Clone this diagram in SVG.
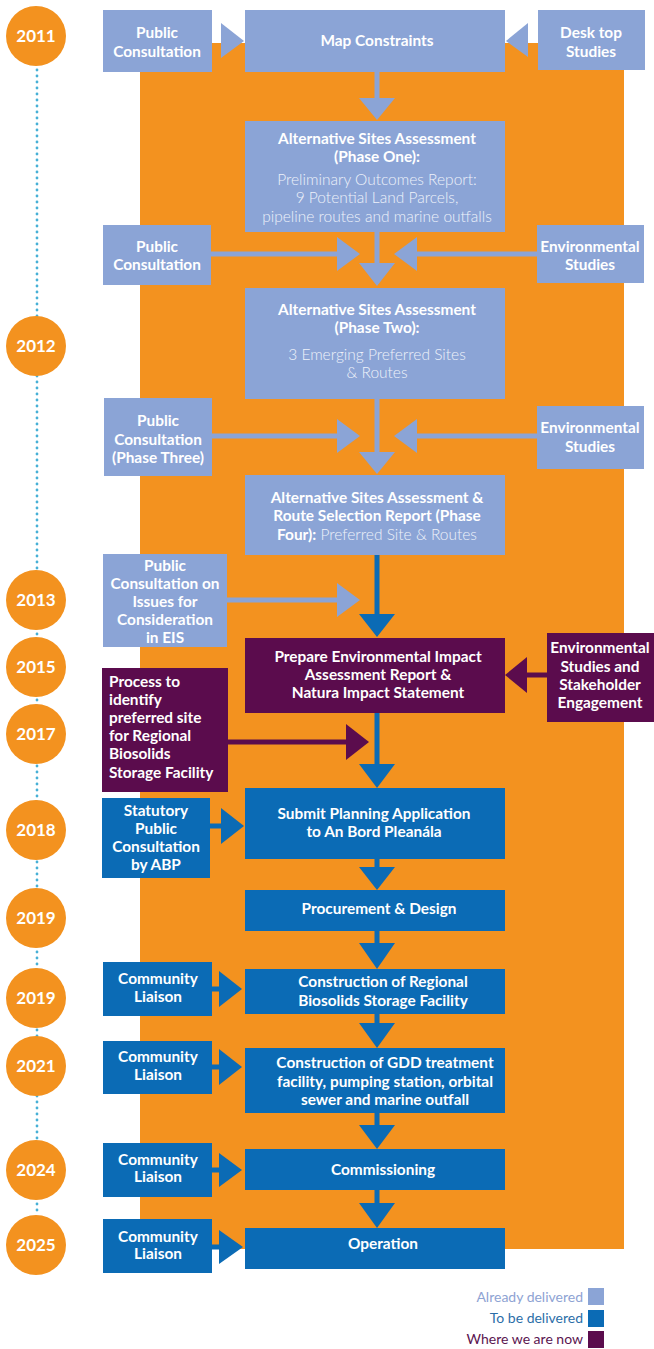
<svg xmlns="http://www.w3.org/2000/svg" width="654" height="1349" viewBox="0 0 654 1349">
<style>
.bg{fill:#ffffff}
.orange{fill:#f3921f}
.lb{fill:#8ba4d6}
.db{fill:#0b6bb5}
.pu{fill:#5b0c4d}
.yr{fill:#f3921f}
.dots{stroke:#47b0d6;stroke-width:2.8;stroke-linecap:round;stroke-dasharray:0 6;fill:none}
.sh-lb{stroke:#8ba4d6;stroke-width:5;fill:none}
.sh-db{stroke:#0b6bb5;stroke-width:5;fill:none}
.sh-pu{stroke:#5b0c4d;stroke-width:5;fill:none}
text{font-family:Lato,"Open Sans","Liberation Sans",sans-serif;fill:#ffffff}
.b{font-weight:700;font-size:15.4px}
.r{font-weight:300;font-size:15.5px;fill:#eef2fa}
.c{text-anchor:middle}
.y{font-weight:700;font-size:17px;text-anchor:middle}
.lg{font-size:14px;text-anchor:end;font-weight:400}
</style>
<rect class="bg" x="0" y="0" width="654" height="1349"/>
<rect class="orange" x="140" y="43" width="484" height="1206"/>

<g id="timeline">
  <line class="dots" x1="37" y1="70" x2="37" y2="1216"/>
  <g id="y2011"><circle class="yr" cx="36" cy="36" r="30"/><text class="y" x="36" y="42">2011</text></g>
  <g id="y2012"><circle class="yr" cx="36" cy="346" r="30"/><text class="y" x="36" y="352">2012</text></g>
  <g id="y2013"><circle class="yr" cx="36" cy="600" r="30"/><text class="y" x="36" y="606">2013</text></g>
  <g id="y2015"><circle class="yr" cx="36" cy="667" r="30"/><text class="y" x="36" y="673">2015</text></g>
  <g id="y2017"><circle class="yr" cx="36" cy="734" r="30"/><text class="y" x="36" y="740">2017</text></g>
  <g id="y2018"><circle class="yr" cx="36" cy="830" r="30"/><text class="y" x="36" y="836">2018</text></g>
  <g id="y2019a"><circle class="yr" cx="36" cy="918" r="30"/><text class="y" x="36" y="924">2019</text></g>
  <g id="y2019b"><circle class="yr" cx="36" cy="998" r="30"/><text class="y" x="36" y="1004">2019</text></g>
  <g id="y2021"><circle class="yr" cx="36" cy="1066" r="30"/><text class="y" x="36" y="1072">2021</text></g>
  <g id="y2024"><circle class="yr" cx="36" cy="1170" r="30"/><text class="y" x="36" y="1176">2024</text></g>
  <g id="y2025"><circle class="yr" cx="36" cy="1245" r="30"/><text class="y" x="36" y="1251">2025</text></g>
</g>

<g id="connectors">
  <line class="sh-lb" x1="377" y1="72" x2="377" y2="99"/>
  <polygon class="lb" points="359,98 395,98 377,120"/>
  <line class="sh-lb" x1="377" y1="232" x2="377" y2="264"/>
  <polygon class="lb" points="359,263 395,263 377,286"/>
  <line class="sh-lb" x1="377" y1="399" x2="377" y2="453"/>
  <polygon class="lb" points="359,452 395,452 377,474"/>
  <line class="sh-db" x1="377" y1="555" x2="377" y2="615"/>
  <polygon class="db" points="359,614 395,614 377,637"/>
  <line class="sh-db" x1="377" y1="713" x2="377" y2="765"/>
  <polygon class="db" points="359,764 395,764 377,788"/>
  <line class="sh-db" x1="377" y1="859" x2="377" y2="868"/>
  <polygon class="db" points="359,867 395,867 377,890"/>
  <line class="sh-db" x1="377" y1="931" x2="377" y2="944"/>
  <polygon class="db" points="359,943 395,943 377,969"/>
  <line class="sh-db" x1="377" y1="1014" x2="377" y2="1024"/>
  <polygon class="db" points="359,1023 395,1023 377,1048"/>
  <line class="sh-db" x1="377" y1="1113" x2="377" y2="1126"/>
  <polygon class="db" points="359,1125 395,1125 377,1149"/>
  <line class="sh-db" x1="377" y1="1190" x2="377" y2="1204"/>
  <polygon class="db" points="359,1203 395,1203 377,1228"/>
  <polygon class="lb" points="221,23 244,41 221,58"/>
  <polygon class="lb" points="528,23 506,41 528,57"/>
  <line class="sh-lb" x1="210" y1="254" x2="338" y2="254"/>
  <polygon class="lb" points="337,237 360,254 337,271"/>
  <line class="sh-lb" x1="537" y1="254" x2="416" y2="254"/>
  <polygon class="lb" points="417,237 394,254 417,271"/>
  <line class="sh-lb" x1="212" y1="436" x2="338" y2="436"/>
  <polygon class="lb" points="337,419 360,436 337,453"/>
  <line class="sh-lb" x1="537" y1="436" x2="416" y2="436"/>
  <polygon class="lb" points="417,419 394,436 417,453"/>
  <line class="sh-lb" x1="227" y1="600" x2="338" y2="600"/>
  <polygon class="lb" points="337,583 360,600 337,617"/>
  <line class="sh-pu" x1="547" y1="675" x2="526" y2="675"/>
  <polygon class="pu" points="527,657 505,675 527,693"/>
  <line class="sh-pu" x1="228" y1="742" x2="347" y2="742"/>
  <polygon class="pu" points="346,724 369,742 346,760"/>
  <line class="sh-db" x1="210" y1="826" x2="222" y2="826"/>
  <polygon class="db" points="221,808 244,826 221,844"/>
  <line class="sh-db" x1="212" y1="989" x2="220" y2="989"/>
  <polygon class="db" points="219,971 242,989 219,1007"/>
  <line class="sh-db" x1="212" y1="1067" x2="220" y2="1067"/>
  <polygon class="db" points="219,1049 242,1067 219,1085"/>
  <line class="sh-db" x1="212" y1="1170" x2="220" y2="1170"/>
  <polygon class="db" points="219,1153 242,1170 219,1187"/>
  <line class="sh-db" x1="212" y1="1247" x2="220" y2="1247"/>
  <polygon class="db" points="219,1230 243,1247 219,1264"/>
</g>

<g id="pc1"><rect class="lb" x="103" y="10" width="109" height="62"/>
  <text class="b c" x="157" y="38">Public</text><text class="b c" x="157" y="57">Consultation</text></g>
<g id="map"><rect class="lb" x="245" y="10" width="260" height="62"/>
  <text class="b c" x="377" y="46">Map Constraints</text></g>
<g id="desk"><rect class="lb" x="538" y="10" width="107" height="60"/>
  <text class="b c" x="591" y="38">Desk top</text><text class="b c" x="591" y="57">Studies</text></g>

<g id="phase1"><rect class="lb" x="245" y="121" width="260" height="111"/>
  <text class="b c" x="377" y="144">Alternative Sites Assessment</text>
  <text class="b c" x="377" y="162">(Phase One):</text>
  <text class="r c" x="377" y="185">Preliminary Outcomes Report:</text>
  <text class="r c" x="377" y="203">9 Potential Land Parcels,</text>
  <text class="r c" x="377" y="222">pipeline routes and marine outfalls</text></g>

<g id="pc2"><rect class="lb" x="103" y="225" width="108" height="60"/>
  <text class="b c" x="157" y="252">Public</text><text class="b c" x="157" y="270">Consultation</text></g>
<g id="env1"><rect class="lb" x="537" y="225" width="107" height="58"/>
  <text class="b c" x="590" y="252">Environmental</text><text class="b c" x="590" y="270">Studies</text></g>

<g id="phase2"><rect class="lb" x="245" y="288" width="260" height="111"/>
  <text class="b c" x="377" y="315">Alternative Sites Assessment</text>
  <text class="b c" x="377" y="333">(Phase Two):</text>
  <text class="r c" x="377" y="360">3 Emerging Preferred Sites</text>
  <text class="r c" x="377" y="378">&amp; Routes</text></g>

<g id="pc3"><rect class="lb" x="104" y="398" width="108" height="78"/>
  <text class="b c" x="158" y="426">Public</text><text class="b c" x="158" y="445">Consultation</text><text class="b c" x="158" y="463">(Phase Three)</text></g>
<g id="env2"><rect class="lb" x="537" y="406" width="107" height="63"/>
  <text class="b c" x="590" y="433">Environmental</text><text class="b c" x="590" y="452">Studies</text></g>

<g id="phase4"><rect class="lb" x="245" y="475" width="260" height="80"/>
  <text class="b c" x="377" y="503">Alternative Sites Assessment &amp;</text>
  <text class="b c" x="377" y="521">Route Selection Report (Phase</text>
  <text class="c" x="377" y="540"><tspan class="b">Four):</tspan><tspan class="r"> Preferred Site &amp; Routes</tspan></text></g>

<g id="pcEIS"><rect class="lb" x="103" y="554" width="124" height="93"/>
  <text class="b c" x="165" y="571">Public</text>
  <text class="b c" x="165" y="589">Consultation on</text>
  <text class="b c" x="165" y="607">Issues for</text>
  <text class="b c" x="165" y="625">Consideration</text>
  <text class="b c" x="165" y="643">in EIS</text></g>

<g id="eia"><rect class="pu" x="245" y="638" width="260" height="75"/>
  <text class="b c" x="378" y="662">Prepare Environmental Impact</text>
  <text class="b c" x="378" y="680">Assessment Report &amp;</text>
  <text class="b c" x="378" y="698">Natura Impact Statement</text></g>
<g id="stake"><rect class="pu" x="547" y="633" width="107" height="89"/>
  <text class="b c" x="600" y="653">Environmental</text>
  <text class="b c" x="600" y="672">Studies and</text>
  <text class="b c" x="600" y="690">Stakeholder</text>
  <text class="b c" x="600" y="708">Engagement</text></g>

<g id="process"><rect class="pu" x="102" y="668" width="126" height="124"/>
  <text class="b" x="109" y="687">Process to</text>
  <text class="b" x="109" y="705">identify</text>
  <text class="b" x="109" y="723">preferred site</text>
  <text class="b" x="109" y="741">for Regional</text>
  <text class="b" x="109" y="759">Biosolids</text>
  <text class="b" x="109" y="778">Storage Facility</text></g>

<g id="statutory"><rect class="db" x="102" y="798" width="108" height="80"/>
  <text class="b c" x="156" y="816">Statutory</text>
  <text class="b c" x="156" y="834">Public</text>
  <text class="b c" x="156" y="852">Consultation</text>
  <text class="b c" x="156" y="870">by ABP</text></g>
<g id="submit"><rect class="db" x="245" y="788" width="260" height="71"/>
  <text class="b c" x="374" y="819">Submit Planning Application</text>
  <text class="b c" x="374" y="837">to An Bord Pleanála</text></g>

<g id="procurement"><rect class="db" x="245" y="890" width="260" height="41"/>
  <text class="b c" x="379" y="914">Procurement &amp; Design</text></g>

<g id="cl1"><rect class="db" x="103" y="962" width="109" height="54"/>
  <text class="b c" x="158" y="984">Community</text><text class="b c" x="158" y="1002">Liaison</text></g>
<g id="regional"><rect class="db" x="245" y="969" width="260" height="45"/>
  <text class="b c" x="383" y="987">Construction of Regional</text>
  <text class="b c" x="383" y="1006">Biosolids Storage Facility</text></g>

<g id="cl2"><rect class="db" x="103" y="1041" width="109" height="53"/>
  <text class="b c" x="158" y="1062">Community</text><text class="b c" x="158" y="1080">Liaison</text></g>
<g id="gdd"><rect class="db" x="245" y="1048" width="260" height="65"/>
  <text class="b c" x="385" y="1068">Construction of GDD treatment</text>
  <text class="b c" x="385" y="1087">facility, pumping station, orbital</text>
  <text class="b c" x="385" y="1105">sewer and marine outfall</text></g>

<g id="cl3"><rect class="db" x="103" y="1143" width="109" height="54"/>
  <text class="b c" x="158" y="1165">Community</text><text class="b c" x="158" y="1182">Liaison</text></g>
<g id="commissioning"><rect class="db" x="245" y="1149" width="260" height="41"/>
  <text class="b c" x="383" y="1175">Commissioning</text></g>

<g id="cl4"><rect class="db" x="103" y="1219" width="109" height="54"/>
  <text class="b c" x="158" y="1242">Community</text><text class="b c" x="158" y="1259">Liaison</text></g>
<g id="operation"><rect class="db" x="245" y="1228" width="260" height="41"/>
  <text class="b c" x="383" y="1249">Operation</text></g>

<g id="legend">
  <rect class="lb" x="588" y="1288" width="16" height="17"/>
  <text class="lg" x="583" y="1302" style="fill:#8ea3d3">Already delivered</text>
  <rect class="db" x="588" y="1310" width="16" height="17"/>
  <text class="lg" x="583" y="1323" style="fill:#2b6ea8">To be delivered</text>
  <rect class="pu" x="588" y="1331" width="16" height="17"/>
  <text class="lg" x="583" y="1344" style="fill:#5b1550">Where we are now</text>
</g>
</svg>
